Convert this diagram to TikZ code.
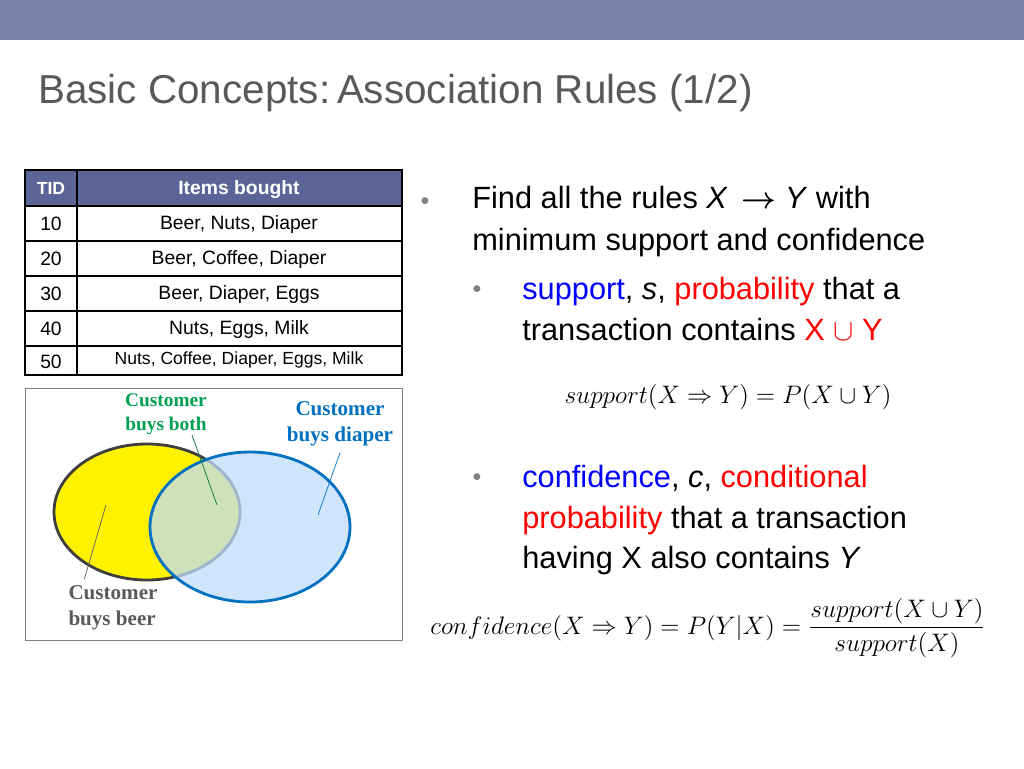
\documentclass[tikz,border=0pt]{standalone}
\usepackage{fontspec}
\usepackage{amsmath,amssymb}
\setmainfont{Liberation Sans}
\newfontfamily\serifbold{Liberation Serif}
\usetikzlibrary{calc, arrows.meta, positioning, shapes}
\definecolor{band}{RGB}{118,128,168}
\definecolor{hdr}{RGB}{90,100,150}
\definecolor{titlegray}{RGB}{89,89,89}
\definecolor{bothgreen}{RGB}{0,160,80}
\definecolor{diaperblue}{RGB}{0,112,192}
\definecolor{beergray}{RGB}{90,90,90}
\definecolor{lightblue}{RGB}{190,220,250}
\begin{document}
\begin{tikzpicture}[x=0.02cm, y=-0.02cm]
		\tikzstyle{cell} = [font=\fontsize{11}{12}\selectfont, anchor=center]
		\tikzstyle{body} = [anchor=base west, inner sep=0pt, font=\fontsize{17.5}{20}\selectfont]
		\tikzstyle{dot} = [anchor=center, text=gray, font=\fontsize{10}{10}\selectfont]
		\tikzstyle{venn} = [align=center, font=\fontsize{11}{14}\serifbold\bfseries]
		
		\useasboundingbox (0,0) rectangle (1024,768);
		\fill[band] (0,0) rectangle (1024,40);
		\node[anchor=base west, inner sep=0pt, text=titlegray, font=\fontsize{23}{26}\selectfont] (title) at (38,103) {Basic Concepts:\,Association Rules (1/2)};
		
		% table
		\fill[hdr] (25,170) rectangle (402,206);
		\foreach \y in {206,241,276,311,346} \draw[thick] (25,\y) -- (402,\y);
		\draw[very thick] (25,170) rectangle (402,375);
		\draw[very thick] (77,170) -- (77,375);
		\node[cell, text=white, font=\fontsize{10}{12}\selectfont\bfseries] (tid) at (51,188) {TID};
		\node[cell, text=white, font=\fontsize{11}{12}\selectfont\bfseries] (items) at (239,190) {Items bought};
		\foreach \t/\s [count=\i] in {10/{Beer, Nuts, Diaper}, 20/{Beer, Coffee, Diaper}, 30/{Beer, Diaper, Eggs}, 40/{Nuts, Eggs, Milk}} {
			\node[cell] (tid\t) at (51,189+35*\i) {\t};
			\node[cell] (row\t) at (239,189+35*\i) {\s};
		}
		\node[cell] (tid50) at (51,362) {50};
		\node[cell, font=\fontsize{10}{12}\selectfont] (row50) at (239,360) {Nuts, Coffee, Diaper, Eggs, Milk};
		
		% venn diagram
		\draw[gray] (25,388) rectangle (402,640);
		\draw[line width=1.6pt, draw=beergray!70!black, fill=yellow] (147,512) ellipse [x radius=93, y radius=68];
		\draw[line width=1.6pt, draw=diaperblue, fill=lightblue, fill opacity=0.75] (250,527) ellipse [x radius=100, y radius=75];
		\node[venn, text=bothgreen] (both) at (166,414) {Customer\\buys both};
		\node[venn, text=diaperblue, font=\fontsize{12}{15}\serifbold\bfseries] (diaper) at (340,424) {Customer\\buys diaper};
		\node[venn, text=beergray, font=\fontsize{12}{15}\serifbold\bfseries, align=left] (beer) at (113,608) {Customer\\buys beer};
		\coordinate (pboth) at (217,505);
		\coordinate (pdiaper) at (318,515);
		\coordinate (pbeer) at (106,505);
		\draw[bothgreen!70!black] (both.south) ++(26,-6) -- (pboth);
		\draw[diaperblue] (diaper.south) -- (pdiaper);
		\draw[beergray] (beer.north west) ++(22,0) -- (pbeer);
		
		% text on the right
		\node[dot] (b1) at (425,202) {$\bullet$};
		\node[body] (l1) at (472,208) {Find all the rules \textit{X} \,$\boldsymbol{\rightarrow}$ \textit{Y} with};
		\node[body] (l2) at (472,250) {minimum support and confidence};
		\node[dot] (b2) at (477,290) {$\bullet$};
		\node[body] (l3) at (522,299) {\textcolor{blue}{support}, \textit{s}, \textcolor{red}{probability} that a};
		\node[body] (l4) at (522,340) {transaction contains \textcolor{red}{X $\cup$ Y}};
		\node[anchor=center, font=\fontsize{15}{18}\selectfont] (fsup) at (728,397) {$\mathnormal{support}(X \Rightarrow Y) = P(X \cup Y)$};
		\node[dot] (b3) at (477,478) {$\bullet$};
		\node[body] (l5) at (522,487) {\textcolor{blue}{confidence}, \textit{c}, \textcolor{red}{conditional}};
		\node[body] (l6) at (522,528) {\textcolor{red}{probability} that a transaction};
		\node[body] (l7) at (522,568) {having X also contains \textit{Y}};
		\node[anchor=center, font=\fontsize{15}{18}\selectfont] (fconf) at (708,628) {$\mathnormal{confidence}(X \Rightarrow Y) = P(Y|X) = \dfrac{\mathnormal{support}(X \cup Y)}{\mathnormal{support}(X)}$};
	\end{tikzpicture}
\end{document}
